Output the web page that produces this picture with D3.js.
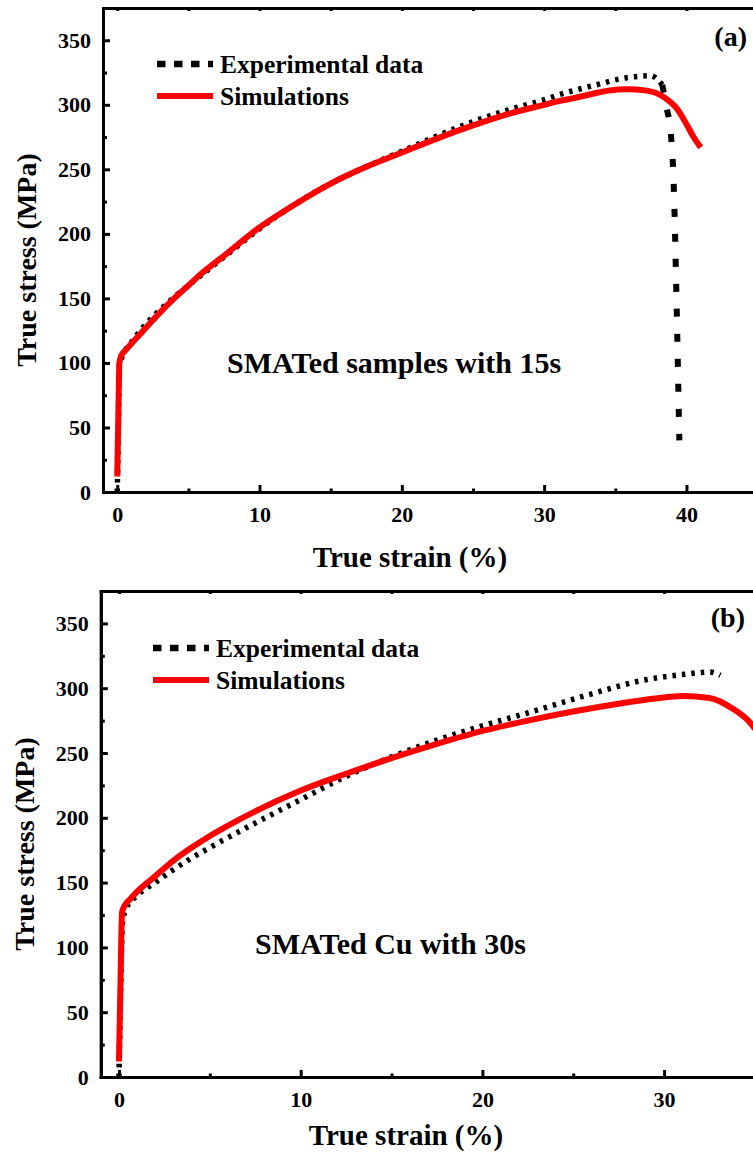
<!DOCTYPE html>
<html lang="en">
	<head>
		<meta charset="utf-8">
		<title>D3: True stress vs true strain</title>
		<script type="text/javascript" src="https://cdn.jsdelivr.net/npm/d3@7"></script>
		<style type="text/css">
			body { margin: 0; background: #fff; }
			svg text { font-family: "Liberation Serif", "Times New Roman", serif; font-weight: bold; fill: #000; }
		</style>
	</head>
	<body>
		<script type="text/javascript">

			var w = 753;
			var h = 1160;

			//data: [true strain (%), true stress (MPa)]
			var expA = [[0,0],[0.08,50],[0.15,98],[0.4,106],[1,116],[2,130],[3,141],[4,151],[5,160],[7.5,182],[10,204],[12.5,223],[15,239],[17.5,252],[20,264],[22.5,276],[25,287],[27.5,296],[30,304],[31.1,308],[33.5,315],[35.8,321],[37.5,322.5],[38.3,315.5]];
			var expADrop = [[38.3,315.5],[38.6,298],[38.9,278],[39.1,240],[39.3,150],[39.5,40]];
			var simA = [[0,12],[0.08,60],[0.15,100],[0.3,106],[0.6,110],[1,115],[2,127],[3,139],[4,150],[5,160],[6,170],[7.5,183],[10,205],[12.5,223],[15,239],[17.5,252],[20,263],[22.5,274],[25,284],[27.5,293],[30,300],[31.1,303],[32,305],[33.2,308],[34.5,311],[35.8,312],[37.2,311],[38.4,306],[39.4,296],[40.1,283],[40.5,275],[41,267]];

			var expB = [[0,0],[0.08,60],[0.2,120],[0.4,130],[1,140],[2,150],[3,160],[4,169],[5,177],[7.5,196],[10,214],[12.5,232],[15,247],[17.5,260],[20,271],[22.5,281],[24.3,288.5],[26.1,296],[28.8,306],[31.3,311],[32.5,312.5],[33.1,310]];
			var simB = [[0,12],[0.08,70],[0.17,127],[0.3,132],[0.6,137],[1,143],[2,155],[3,167],[4,177],[5,186],[6,194],[7.5,205],[10,221],[12.5,234],[15,246],[17.5,257],[20,267],[22.5,275],[25,282],[27.5,288],[29.5,292],[31,294],[32.5,292.5],[33.8,284],[34.7,274],[35.3,263]];

			var yMajor = [0, 50, 100, 150, 200, 250, 300, 350];
			var yMinor = [25, 75, 125, 175, 225, 275, 325];
			var xMajorA = [0, 10, 20, 30, 40];
			var xMinorA = [5, 15, 25, 35];
			var xMajorB = [0, 10, 20, 30];
			var xMinorB = [5, 15, 25];

			var legendLabels = ["Experimental data", "Simulations"];
			var panelLabels = ["(a)", "(b)"];
			var noteLabels = ["SMATed samples with 15s", "SMATed Cu with 30s"];
			var xTitle = "True strain (%)";
			var yTitle = "True stress (MPa)";

			var svg = d3.select("body")
						.append("svg")
						.attr("width", w)
						.attr("height", h);

			//layout of the two panels (frame runs past the right edge of the picture)
			var panels = [
				{ left: 103, right: 757.6, top: 8, bottom: 492, xDomain: [-1, 45],
				  exp: expA, drop: expADrop, sim: simA, xMajor: xMajorA, xMinor: xMinorA,
				  legendX: 157, legendY: 64, labelX: 747, labelY: 46, noteX: 227, noteY: 373,
				  yTitleX: 36, yTitleY: 260, xTitleX: 410, xTitleY: 567 },
				{ left: 100.8, right: 760.4, top: 591, bottom: 1077, xDomain: [-1, 35.3],
				  exp: expB, drop: null, sim: simB, xMajor: xMajorB, xMinor: xMinorB,
				  legendX: 153, legendY: 648, labelX: 745, labelY: 627, noteX: 255, noteY: 954,
				  yTitleX: 34, yTitleY: 844, xTitleX: 406, xTitleY: 1145 }
			];

			panels.forEach(function(p, i) {

				var xScale = d3.scaleLinear()
							   .domain(p.xDomain)
							   .range([p.left, p.right]);

				var yScale = d3.scaleLinear()
							   .domain([0, 375])
							   .range([p.bottom, p.top]);

				var line = d3.line()
							 .x(function(d) { return xScale(d[0]); })
							 .y(function(d) { return yScale(d[1]); })
							 .curve(d3.curveMonotoneX);

				var g = svg.append("g");

				//experimental curve (dotted), under the simulation
				g.append("path")
				 .datum(p.exp)
				 .attr("d", line)
				 .attr("fill", "none")
				 .attr("stroke", "#000")
				 .attr("stroke-width", 5.5)
				 .attr("stroke-dasharray", "3.5,6");

				if (p.drop) {
					g.append("path")
					 .datum(p.drop)
					 .attr("d", line)
					 .attr("fill", "none")
					 .attr("stroke", "#000")
					 .attr("stroke-width", 6)
					 .attr("stroke-dasharray", "8,17");
				}

				g.append("path")
				 .datum(p.sim)
				 .attr("d", line)
				 .attr("fill", "none")
				 .attr("stroke", "#ff0000")
				 .attr("stroke-width", 6)
				 .attr("stroke-linejoin", "round");

				//axes: ticks point inwards
				var xAxis = d3.axisBottom(xScale)
							  .tickValues(p.xMajor)
							  .tickSizeInner(-7)
							  .tickSizeOuter(0)
							  .tickPadding(14)
							  .tickFormat(d3.format("d"));

				var xAxisMinor = d3.axisBottom(xScale)
								   .tickValues(p.xMinor)
								   .tickSizeInner(-3.5)
								   .tickSizeOuter(0)
								   .tickFormat("");

				var yAxis = d3.axisLeft(yScale)
							  .tickValues(yMajor)
							  .tickSizeInner(-7)
							  .tickSizeOuter(0)
							  .tickPadding(12)
							  .tickFormat(d3.format("d"));

				var yAxisMinor = d3.axisLeft(yScale)
								   .tickValues(yMinor)
								   .tickSizeInner(-4)
								   .tickSizeOuter(0)
								   .tickFormat("");

				var topAxis = d3.axisTop(xScale)
								.tickValues(p.xMajor.concat(p.xMinor))
								.tickSizeInner(-3)
								.tickSizeOuter(0)
								.tickFormat("");

				var axes = [
					[xAxis, "translate(0," + p.bottom + ")"],
					[xAxisMinor, "translate(0," + p.bottom + ")"],
					[topAxis, "translate(0," + p.top + ")"],
					[yAxis, "translate(" + p.left + ",0)"],
					[yAxisMinor, "translate(" + p.left + ",0)"]
				];

				axes.forEach(function(a) {
					var ag = g.append("g")
							  .attr("transform", a[1])
							  .call(a[0])
							  .attr("font-size", "22px");
					ag.select(".domain")
					  .attr("stroke-width", 3)
					  .attr("stroke-linecap", "square");
					ag.selectAll(".tick line")
					  .attr("stroke-width", 3);
				});

				//axis titles
				g.append("text")
				 .attr("x", p.xTitleX)
				 .attr("y", p.xTitleY)
				 .attr("text-anchor", "middle")
				 .attr("font-size", "29px")
				 .text(xTitle);

				g.append("text")
				 .attr("transform", "translate(" + p.yTitleX + "," + p.yTitleY + ") rotate(-90)")
				 .attr("text-anchor", "middle")
				 .attr("font-size", "28px")
				 .text(yTitle);

				//legend
				g.append("line")
				 .attr("x1", p.legendX)
				 .attr("x2", p.legendX + 56)
				 .attr("y1", p.legendY)
				 .attr("y2", p.legendY)
				 .attr("stroke", "#000")
				 .attr("stroke-width", 6.5)
				 .attr("stroke-dasharray", "8.5,8.5");

				g.append("line")
				 .attr("x1", p.legendX)
				 .attr("x2", p.legendX + 56)
				 .attr("y1", p.legendY + 32)
				 .attr("y2", p.legendY + 32)
				 .attr("stroke", "#ff0000")
				 .attr("stroke-width", 6);

				g.selectAll(".legend-text")
				 .data(legendLabels)
				 .enter()
				 .append("text")
				 .attr("class", "legend-text")
				 .attr("x", p.legendX + 63)
				 .attr("y", function(d, k) { return p.legendY + 9 + k * 32; })
				 .attr("font-size", "25.5px")
				 .text(function(d) { return d; });

				//panel letter and note
				g.append("text")
				 .attr("x", p.labelX)
				 .attr("y", p.labelY)
				 .attr("text-anchor", "end")
				 .attr("font-size", "28px")
				 .text(panelLabels[i]);

				g.append("text")
				 .attr("x", p.noteX)
				 .attr("y", p.noteY)
				 .attr("font-size", "30px")
				 .text(noteLabels[i]);
			});

		</script>
	</body>
</html>
